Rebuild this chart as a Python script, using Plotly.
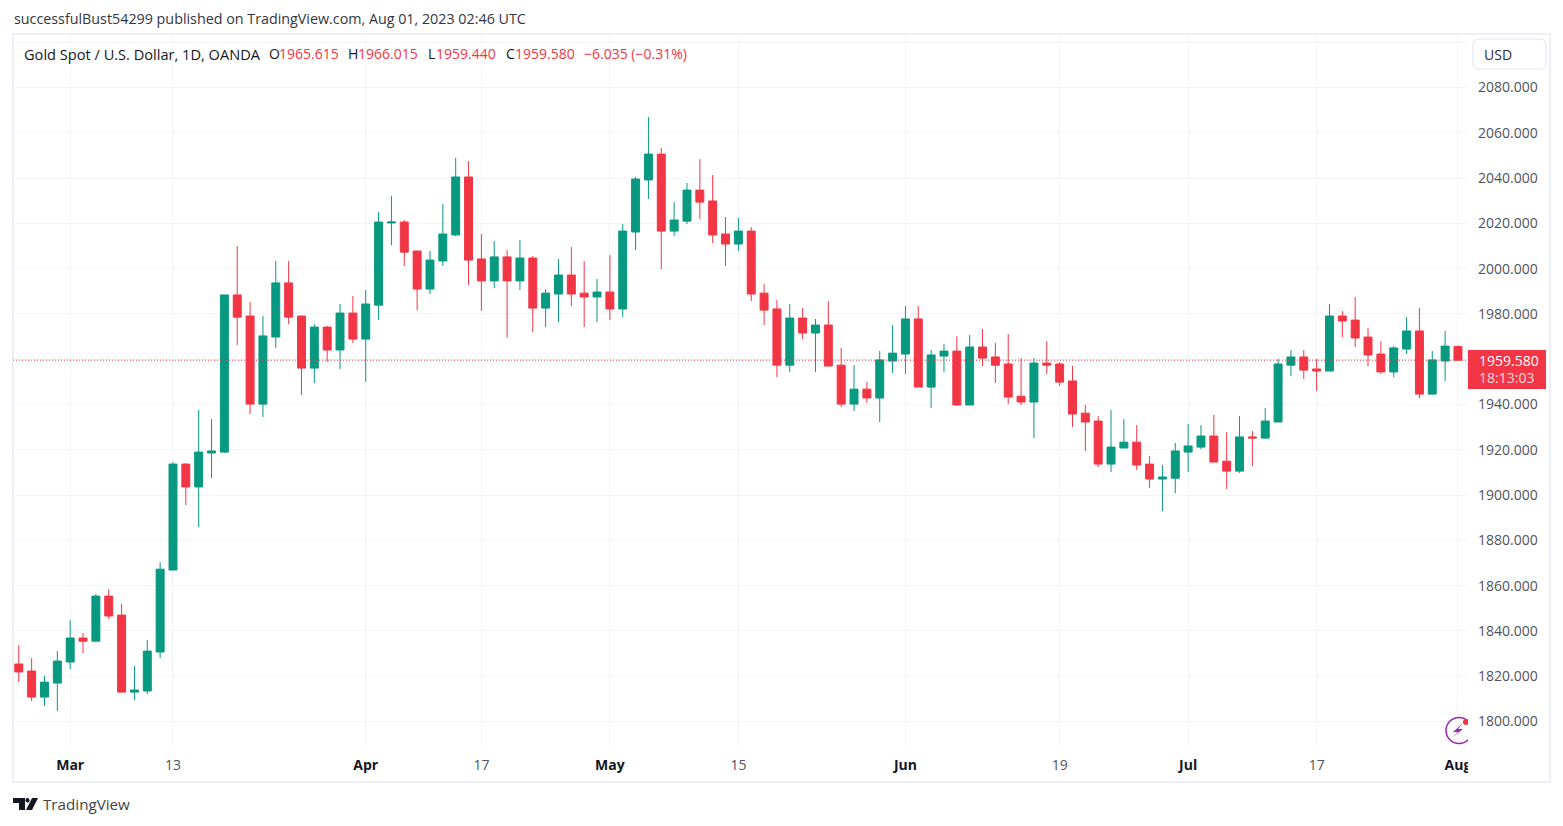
#!/usr/bin/env python3
"""Gold spot daily candles, TradingView look."""

import pandas as pd
import plotly.graph_objects as go

dates = pd.bdate_range('2023-02-23', '2023-08-01').drop(pd.Timestamp('2023-04-07')).strftime('%Y-%m-%d').tolist()

opens = [1825.4, 1822.3, 1810.8, 1817.0, 1826.3, 1836.9, 1835.5, 1855.4, 1847.0, 1813.0,
         1813.5, 1830.7, 1866.9, 1913.7, 1903.6, 1918.6, 1919.0, 1988.4, 1979.1, 1940.2,
         1969.8, 1993.7, 1979.1, 1956.1, 1974.2, 1964.1, 1980.4, 1968.9, 1983.9, 2020.2,
         2020.6, 2007.8, 1991.0, 2003.4, 2014.9, 2040.5, 2004.3, 1994.6, 2005.2, 1994.6,
         2004.7, 1982.6, 1988.8, 1997.2, 1989.2, 1987.5, 1989.7, 1982.2, 2016.2, 2039.2,
         2050.6, 2016.6, 2021.0, 2034.7, 2029.9, 2015.3, 2010.9, 2016.6, 1989.2, 1982.2,
         1957.4, 1978.2, 1971.6, 1975.1, 1957.4, 1940.2, 1946.8, 1942.9, 1959.2, 1962.3,
         1977.8, 1947.7, 1961.4, 1963.6, 1939.8, 1965.4, 1961.0, 1957.9, 1943.7, 1941.1,
         1958.3, 1957.9, 1950.4, 1936.2, 1932.7, 1913.7, 1920.8, 1923.4, 1913.7, 1907.1,
         1907.5, 1919.0, 1921.2, 1926.1, 1915.0, 1910.6, 1925.7, 1925.2, 1932.3, 1957.4,
         1961.0, 1955.7, 1954.8, 1979.1, 1977.3, 1969.8, 1962.3, 1954.4, 1964.5, 1972.5,
         1944.6, 1959.2, 1965.615]
highs = [1833.8, 1828.0, 1820.1, 1831.1, 1844.8, 1839.1, 1856.3, 1858.5, 1851.9, 1824.5,
         1836.0, 1870.4, 1914.6, 1914.2, 1937.6, 1933.6, 1988.4, 2010.0, 1985.3, 1979.1,
         2003.4, 2003.4, 1979.1, 1975.5, 1974.7, 1984.4, 1987.9, 1990.6, 2025.0, 2032.1,
         2021.5, 2007.8, 2007.8, 2028.5, 2048.9, 2047.5, 2015.3, 2012.2, 2008.2, 2012.6,
         2005.6, 1991.0, 2004.2, 2009.6, 2003.4, 1995.4, 2006.0, 2019.7, 2040.5, 2067.0,
         2053.3, 2029.4, 2037.8, 2048.4, 2041.4, 2022.8, 2022.4, 2018.4, 1993.2, 1986.2,
         1984.4, 1982.6, 1977.8, 1985.7, 1965.0, 1957.4, 1950.0, 1963.6, 1975.1, 1983.5,
         1983.5, 1964.1, 1966.7, 1970.2, 1970.7, 1973.3, 1967.2, 1971.1, 1960.5, 1960.5,
         1968.0, 1958.8, 1957.0, 1939.8, 1934.9, 1937.6, 1933.6, 1930.9, 1917.3, 1913.3,
         1923.0, 1931.4, 1930.9, 1935.4, 1927.9, 1934.9, 1928.3, 1938.5, 1960.1, 1964.1,
         1964.1, 1960.1, 1984.4, 1981.3, 1987.5, 1973.8, 1968.0, 1965.8, 1978.6, 1982.6,
         1963.6, 1972.5, 1966.015]
lows = [1817.4, 1809.0, 1806.8, 1804.6, 1823.2, 1830.2, 1835.5, 1845.3, 1813.0, 1809.5,
        1812.1, 1828.0, 1866.9, 1895.6, 1885.9, 1907.5, 1918.6, 1966.3, 1935.8, 1934.5,
        1965.0, 1975.5, 1944.2, 1949.5, 1958.8, 1955.7, 1967.2, 1949.9, 1977.3, 2010.4,
        2001.2, 1981.7, 1988.8, 2001.2, 2014.4, 1992.8, 1981.3, 1991.4, 1969.4, 1990.6,
        1972.0, 1974.2, 1976.4, 1983.5, 1974.2, 1976.4, 1977.3, 1978.6, 2008.2, 2030.8,
        1999.8, 2014.4, 2019.7, 2021.9, 2011.3, 2001.2, 2007.8, 1985.7, 1975.1, 1952.2,
        1954.4, 1968.9, 1954.4, 1957.0, 1938.9, 1937.1, 1940.7, 1932.3, 1953.9, 1953.5,
        1947.7, 1938.4, 1954.4, 1939.8, 1939.8, 1957.0, 1949.5, 1940.2, 1939.8, 1925.2,
        1953.5, 1948.2, 1930.1, 1919.5, 1912.4, 1910.2, 1920.8, 1911.1, 1903.1, 1893.0,
        1900.9, 1910.2, 1920.3, 1914.6, 1902.7, 1909.8, 1912.8, 1924.8, 1932.3, 1952.6,
        1951.3, 1946.0, 1954.8, 1969.8, 1965.4, 1957.0, 1953.5, 1952.2, 1962.3, 1942.9,
        1944.6, 1950.4, 1959.44]
closes = [1821.9, 1810.8, 1817.4, 1826.7, 1836.9, 1835.5, 1855.4, 1846.6, 1813.0, 1813.9,
          1831.1, 1867.3, 1913.7, 1903.6, 1919.0, 1919.5, 1988.4, 1978.6, 1940.2, 1970.3,
          1993.7, 1978.6, 1956.1, 1974.2, 1964.1, 1980.4, 1968.9, 1984.4, 2020.6, 2020.6,
          2007.3, 1991.0, 2003.8, 2015.3, 2040.5, 2003.8, 1994.6, 2005.2, 1994.6, 2004.7,
          1982.6, 1989.2, 1997.2, 1988.8, 1987.5, 1989.7, 1982.2, 2016.6, 2039.6, 2050.6,
          2016.6, 2021.5, 2034.7, 2029.4, 2014.9, 2010.9, 2016.6, 1988.8, 1981.7, 1957.4,
          1978.2, 1971.6, 1975.1, 1957.0, 1940.2, 1946.8, 1942.9, 1959.7, 1962.7, 1977.8,
          1947.7, 1961.9, 1963.6, 1939.8, 1965.4, 1960.5, 1957.4, 1943.3, 1941.1, 1958.3,
          1957.4, 1949.9, 1935.8, 1932.3, 1913.7, 1921.2, 1923.4, 1913.3, 1907.1, 1908.0,
          1919.5, 1921.7, 1926.1, 1914.6, 1910.6, 1925.7, 1925.2, 1932.7, 1957.9, 1961.0,
          1955.2, 1954.8, 1979.1, 1976.9, 1969.4, 1961.9, 1954.4, 1965.0, 1972.5, 1944.6,
          1959.7, 1965.8, 1959.58]

price_ticks = [1800, 1820, 1840, 1860, 1880, 1900, 1920, 1940, 1960, 1980, 2000, 2020, 2040, 2060, 2080, 2100]
price_labels = ['1800.000', '1820.000', '1840.000', '1860.000', '1880.000', '1900.000', '1920.000', '1940.000',
                '', '1980.000', '2000.000', '2020.000', '2040.000', '2060.000', '2080.000', '']
date_ticks = ['2023-03-01', '2023-03-13', '2023-04-03', '2023-04-17', '2023-05-01', '2023-05-15',
              '2023-06-01', '2023-06-19', '2023-07-03', '2023-07-17', '2023-08-01']
date_labels = ['Mar', '13', 'Apr', '17', 'May', '15', 'Jun', '19', 'Jul', '17', 'Aug']

UP = '#089981'
DOWN = '#f23645'
GRID = '#f2f4f9'
FRAME = '#eeeff6'
DARK = '#131722'
GREY = '#50535e'
FONT = 'Open Sans, sans-serif'

W, H = 1563, 826
LEFT, RIGHT, TOP, BOTTOM = 13, 1468, 35, 746


def px(x):
    return (x - LEFT) / (RIGHT - LEFT)


def py(y):
    return (BOTTOM - y) / (BOTTOM - TOP)


def poly(points):
    return 'M' + ' L'.join(f'{px(x):.5f},{py(y):.5f}' for x, y in points) + ' Z'


def box(x0, y0, x1, y1, **kw):
    return dict(type='rect', xref='paper', yref='paper', x0=px(x0), x1=px(x1), y0=py(y0), y1=py(y1), **kw)


def rounded(x0, y0, x1, y1, r):
    p = lambda x, y: f'{px(x):.5f},{py(y):.5f}'
    return (f'M{p(x0 + r, y0)} L{p(x1 - r, y0)} Q{p(x1, y0)} {p(x1, y0 + r)} L{p(x1, y1 - r)} '
            f'Q{p(x1, y1)} {p(x1 - r, y1)} L{p(x0 + r, y1)} Q{p(x0, y1)} {p(x0, y1 - r)} '
            f'L{p(x0, y0 + r)} Q{p(x0, y0)} {p(x0 + r, y0)} Z')


def note(x, y, text, color=DARK, size=14, anchor='left'):
    return dict(xref='paper', yref='paper', x=px(x - 1), y=py(y), text=text, showarrow=False, xanchor=anchor,
                yanchor='middle', borderpad=0, font=dict(family=FONT, size=size, color=color))


fig = go.Figure(go.Candlestick(
    x=dates, open=opens, high=highs, low=lows, close=closes,
    increasing=dict(line=dict(color=UP, width=1), fillcolor=UP),
    decreasing=dict(line=dict(color=DOWN, width=1), fillcolor=DOWN),
    whiskerwidth=0,
    hoverinfo='skip',
))

shapes = [
    box(13, 34, 1550, 782, line=dict(color=FRAME, width=2), layer='below'),
    dict(type='line', xref='paper', yref='y', x0=0, x1=1, y0=closes[-1], y1=closes[-1],
         line=dict(color=DOWN, width=1, dash='1px,2px'), layer='above'),
    dict(type='path', xref='paper', yref='paper', path=rounded(1473, 39, 1546, 69, 6),
         line=dict(color=FRAME, width=1.5), fillcolor='white'),
    box(1468, 350, 1546, 389, line=dict(width=0), fillcolor=DOWN),
    # logo
    dict(type='path', xref='paper', yref='paper', fillcolor=DARK, line=dict(width=0),
         path=poly([(13, 798), (25, 798), (25, 810), (19, 810), (19, 803), (13, 803)])),
    dict(type='circle', xref='paper', yref='paper', x0=px(25.5), x1=px(29.5), y0=py(798), y1=py(802.5),
         fillcolor=DARK, line=dict(width=0)),
    dict(type='path', xref='paper', yref='paper', fillcolor=DARK, line=dict(width=0),
         path=poly([(32, 798), (38, 798), (32, 810), (26, 810)])),
    # badge in the corner
    dict(type='circle', xref='paper', yref='paper', x0=px(1446), x1=px(1472), y0=py(717.5), y1=py(743.5),
         line=dict(color='#9c27b0', width=1.5), layer='above'),
    dict(type='path', xref='paper', yref='paper', fillcolor='#9c27b0', line=dict(width=0), layer='above',
         path=poly([(1463, 723), (1453, 732), (1458, 732), (1453, 737), (1463, 729), (1458, 729)])),
    dict(type='circle', xref='paper', yref='paper', x0=px(1463), x1=px(1469), y0=py(719), y1=py(725),
         fillcolor=DOWN, line=dict(width=0), layer='above'),
    # chart pane clips what crosses its right edge
    box(1468, 712, 1476, 776, line=dict(width=0), fillcolor='white', layer='above'),
]

annotations = [
    note(14, 19, 'successfulBust54299 published on TradingView.com, Aug 01, 2023 02:46 UTC', color='#333640', size=14.3),
    note(24, 54, 'Gold Spot / U.S. Dollar, 1D, OANDA', size=14.6),
    note(269, 54, 'O'), note(279, 54, '1965.615', DOWN),
    note(348, 54, 'H'), note(358, 54, '1966.015', DOWN),
    note(428, 54, 'L'), note(436, 54, '1959.440', DOWN),
    note(506, 54, 'C'), note(515, 54, '1959.580', DOWN),
    note(584, 54, '−6.035 (−0.31%)', DOWN),
    note(1484, 54.5, 'USD', '#2a2e39'),
    note(1479, 360, '1959.580', 'white'),
    note(1479, 378, '18:13:03', '#fbd7da'),
    note(43, 804, 'TradingView', '#444', size=15.2),
]

ticktext = [f'<b>{t}</b>' if t[0].isalpha() else f'<span style="color:{GREY}">{t}</span>' for t in date_labels]

fig.update_layout(
    width=W, height=H,
    margin=dict(l=LEFT, r=W - RIGHT, t=TOP, b=H - BOTTOM, pad=0),
    paper_bgcolor='white', plot_bgcolor='white',
    showlegend=False,
    hovermode=False,
    boxgap=0.38,
    boxgroupgap=0,
    font=dict(family=FONT, size=14, color=GREY),
    shapes=shapes,
    annotations=annotations,
)
fig.update_xaxes(
    type='category', categoryorder='array', categoryarray=dates,
    range=[-0.45, 112.78],
    rangeslider_visible=False,
    tickmode='array', tickvals=date_ticks, ticktext=ticktext,
    tickangle=0,
    tickfont=dict(size=14, color=DARK),
    showgrid=True, gridcolor=GRID, gridwidth=1,
    showline=False, zeroline=False, ticks='',
    ticklabelstandoff=9,
)
fig.update_yaxes(
    side='right', range=[1789.2, 2103.2],
    tickmode='array', tickvals=price_ticks, ticktext=price_labels,
    tickfont=dict(size=14, color=GREY),
    showgrid=True, gridcolor=GRID, gridwidth=1,
    showline=False, zeroline=False, ticks='',
    ticklabelstandoff=9,
)

fig.write_html('out.html', config=dict(displayModeBar=False), post_script="document.body.style.margin='0';")
